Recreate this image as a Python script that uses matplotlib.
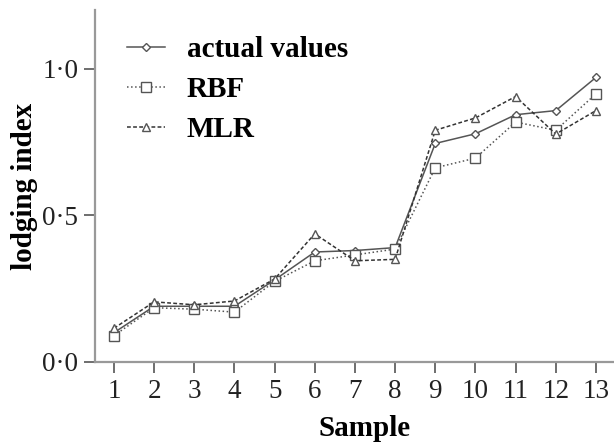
import matplotlib
matplotlib.use("Agg")
import matplotlib.pyplot as plt
from matplotlib.ticker import FuncFormatter

samples = list(range(1, 14))
actual = [0.10, 0.19, 0.19, 0.19, 0.28, 0.375, 0.38, 0.39, 0.745, 0.778, 0.843, 0.857, 0.97]
rbf = [0.09, 0.185, 0.18, 0.17, 0.275, 0.345, 0.365, 0.385, 0.662, 0.695, 0.818, 0.79, 0.914]
mlr = [0.115, 0.205, 0.195, 0.208, 0.283, 0.437, 0.345, 0.35, 0.79, 0.832, 0.905, 0.777, 0.857]
yticks = [0.0, 0.5, 1.0]

plt.rcParams['font.family'] = ['Liberation Serif', 'DejaVu Serif']

fig = plt.figure(figsize=(6.14, 4.44), dpi=100)
ax = fig.add_axes([0.1547, 0.1847, 0.8453, 0.7928])

lc = '#555555'
ax.plot(samples, actual, '-', color=lc, lw=1.1, marker='D', ms=4.5, mfc='white', mec=lc, mew=1.0, label='actual values')
ax.plot(samples, rbf, ':', color=lc, lw=1.1, marker='s', ms=6.5, mfc='white', mec=lc, mew=1.0, label='RBF')
ax.plot(samples, mlr, '--', color='#333333', lw=1.1, dashes=(2.5, 1.5), marker='^', ms=6, mfc='white', mec=lc, mew=1.0, label='MLR')

ax.set_xlim(0.527, 13.45)
ax.set_ylim(0, 1.20)
ax.set_xticks(samples)
ax.set_yticks(yticks)
ax.yaxis.set_major_formatter(FuncFormatter(lambda v, p: f"{v:.1f}".replace('.', '\u00b7')))

for s in ['top', 'right']:
    ax.spines[s].set_visible(False)
for s in ['left', 'bottom']:
    ax.spines[s].set_color('#999999')
    ax.spines[s].set_linewidth(1.6)
ax.tick_params(axis='both', direction='out', length=8, width=1.2, color='#555555', labelsize=19.5, pad=4, labelcolor='#222222')

ax.set_xlabel('Sample', fontsize=21, fontweight='bold')
ax.xaxis.set_label_coords(0.52, -0.15)
ax.set_ylabel('lodging index', fontsize=21, fontweight='bold', labelpad=3)

leg = ax.legend(loc='upper left', bbox_to_anchor=(0.028, 0.975), frameon=False,
                prop={'weight': 'bold', 'size': 21}, handlelength=1.3, handletextpad=0.75,
                labelspacing=0.44, borderaxespad=0.2)

fig.savefig('out.png', dpi=100)
